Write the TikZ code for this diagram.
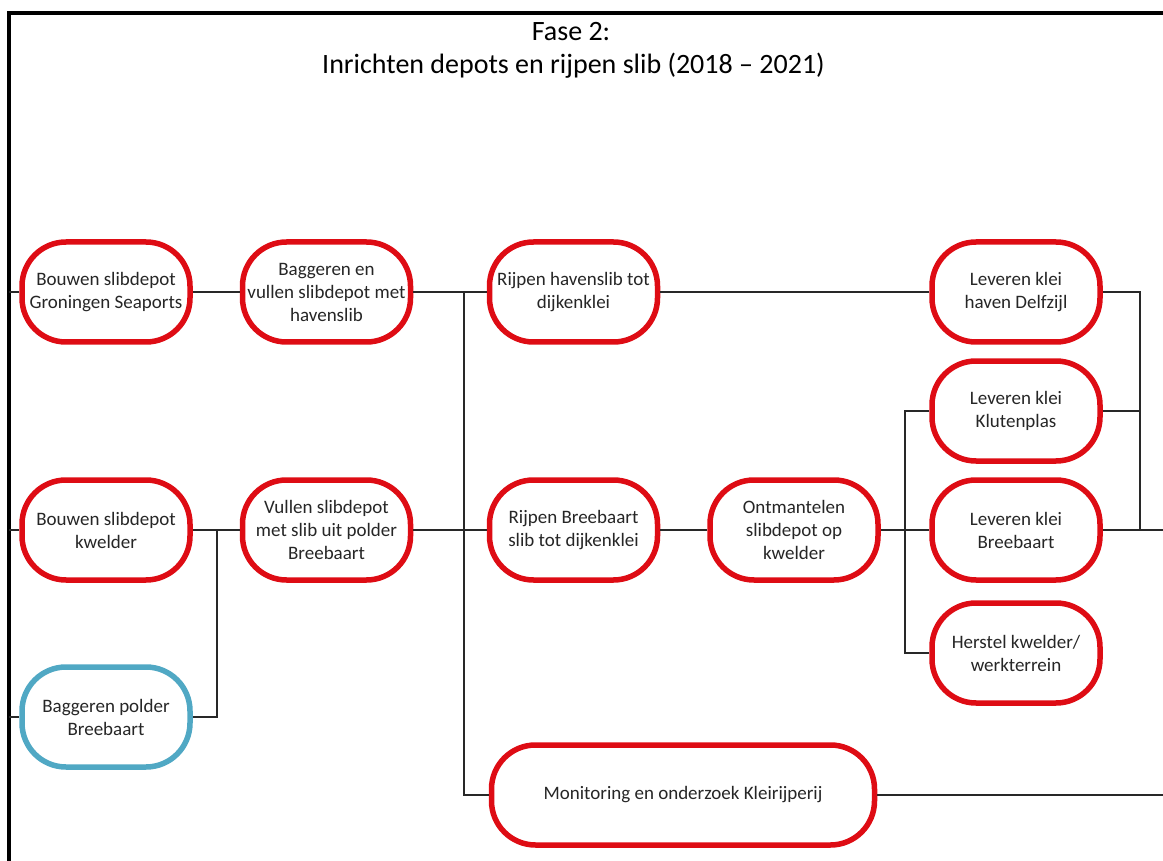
\documentclass[tikz,border=0pt]{standalone}
\usepackage{fontspec}
\setmainfont{Carlito}
\definecolor{boxred}{RGB}{222,12,20}
\definecolor{boxblue}{RGB}{80,168,196}
\definecolor{inkgray}{RGB}{38,38,38}
\definecolor{wire}{RGB}{40,40,40}
\begin{document}
\begin{tikzpicture}[x=1pt,y=-1pt,
  box/.style={draw=boxred, line width=5.5pt, rounded corners=44pt,
    minimum width=168pt, minimum height=100pt, inner sep=0pt,
    align=center, text=inkgray, fill=white,
    font=\fontsize{19}{23}\selectfont},
  bluebox/.style={box, draw=boxblue},
  widebox/.style={box, minimum width=383pt},
  conn/.style={draw=wire, line width=1.6pt},
  titletext/.style={font=\fontsize{28}{34}\selectfont, text=black, anchor=base, inner sep=0pt},
  frameline/.style={draw=black, line width=4pt}]
\useasboundingbox (0,0) rectangle (1163,861);
\clip (0,0) rectangle (1163,861);

% frame and title
\draw[frameline] (1175,13) -- (9,13) -- (9,875);
\node[titletext] (title1) at (571,41) {Fase 2:};
\node[titletext] (title2) at (573.5,74) {Inrichten depots en rijpen slib (2018 – 2021)};

% helper coordinates for the vertical buses and edges
\coordinate (edgeL) at (9,0);
\coordinate (edgeR) at (1163,0);
\coordinate (busA) at (217,0);
\coordinate (busB) at (464,0);
\coordinate (busC) at (905,0);
\coordinate (busD) at (1140,0);

% activities
\node[box] (gsp)  at (106,292) {Bouwen slibdepot\\Groningen Seaports};
\node[box] (bag)  at (326.5,292) {Baggeren en\\vullen slibdepot met\\havenslib};
\node[box] (rhav) at (573.5,292) {Rijpen havenslib tot\\dijkenklei};
\node[box] (ldel) at (1016,292) {Leveren klei\\haven Delfzijl};
\node[box] (lklu) at (1016,411) {Leveren klei\\Klutenplas};
\node[box] (bkw)  at (106,530) {Bouwen slibdepot\\kwelder};
\node[box] (vul)  at (326.5,530) {Vullen slibdepot\\met slib uit polder\\Breebaart};
\node[box] (rbre) at (573.5,530) {Rijpen Breebaart\\slib tot dijkenklei};
\node[box] (ont)  at (794,530) {Ontmantelen\\slibdepot op\\kwelder};
\node[box] (lbre) at (1016,530) {Leveren klei\\Breebaart};
\node[box] (her)  at (1016,653) {Herstel kwelder/\\werkterrein};
\node[bluebox] (bpb) at (106,717) {Baggeren polder\\Breebaart};
\node[widebox] (mon) at (683,795) {Monitoring en onderzoek Kleirijperij};

% connectors
\draw[conn] (edgeL |- gsp.west) -- (gsp.west);
\draw[conn] (edgeL |- bkw.west) -- (bkw.west);
\draw[conn] (edgeL |- bpb.west) -- (bpb.west);
\draw[conn] (gsp.east) -- (bag.west);
\draw[conn] (bkw.east) -- (vul.west);
\draw[conn] (bpb.east) -| (busA |- vul.west);
\draw[conn] (bag.east) -- (rhav.west);
\draw[conn] (vul.east) -- (rbre.west);
\draw[conn] (busB |- bag.east) |- (mon.west);
\draw[conn] (rhav.east) -- (ldel.west);
\draw[conn] (rbre.east) -- (ont.west);
\draw[conn] (ont.east) -- (lbre.west);
\draw[conn] (lklu.west) -| (busC |- her.west) -- (her.west);
\draw[conn] (ldel.east) -| (busD |- lbre.east);
\draw[conn] (lklu.east) -- (busD |- lklu.east);
\draw[conn] (lbre.east) -- (edgeR |- lbre.east);
\draw[conn] (mon.east) -- (edgeR |- mon.east);
\end{tikzpicture}
\end{document}
